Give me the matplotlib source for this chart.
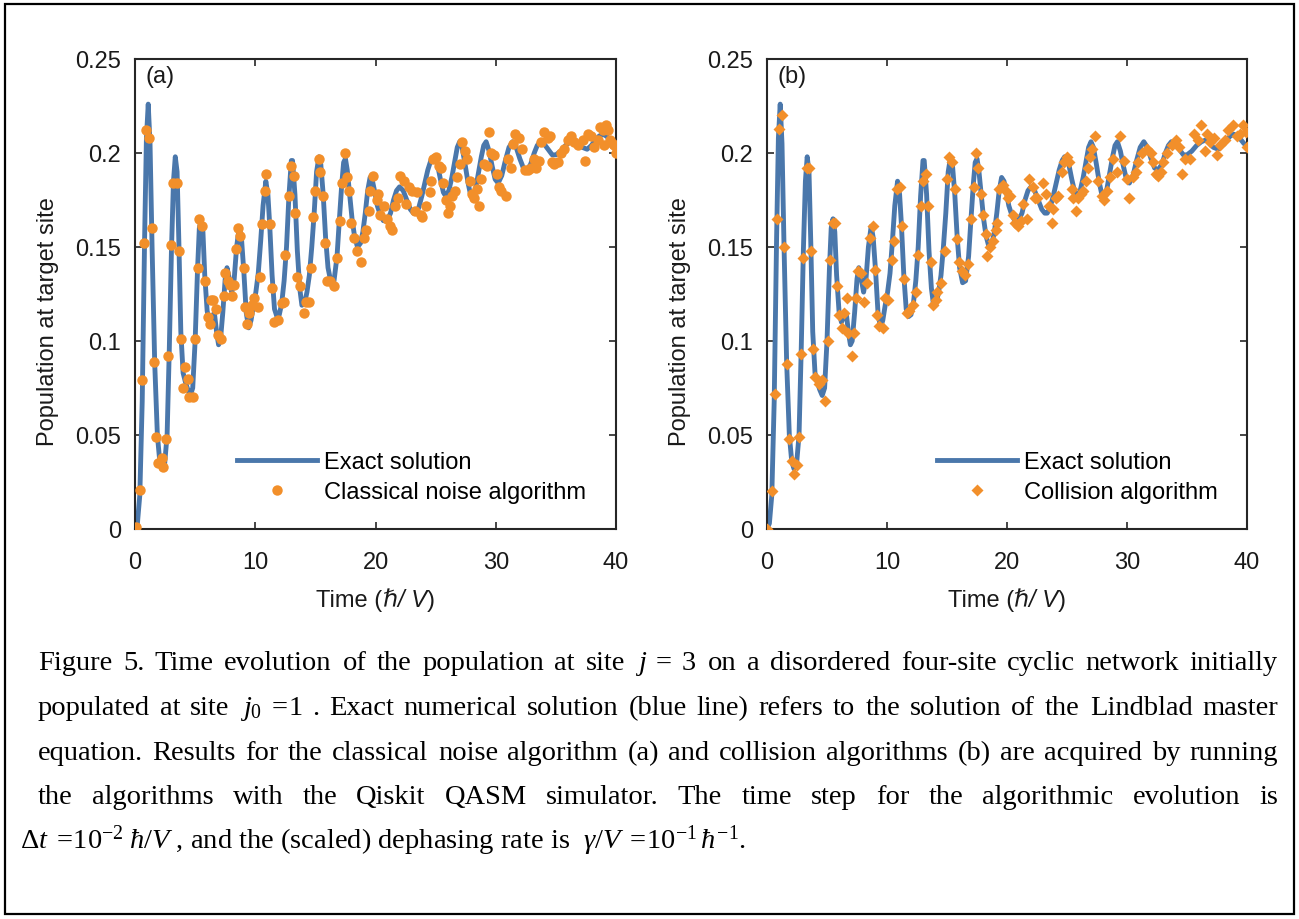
import matplotlib
matplotlib.use('Agg')
import matplotlib.pyplot as plt
from matplotlib.patches import Rectangle
from matplotlib.offsetbox import TextArea, HPacker, AnchoredOffsetbox

plt.rcParams['font.family'] = ['Liberation Sans', 'DejaVu Sans']
plt.rcParams['mathtext.fontset'] = 'custom'
plt.rcParams['mathtext.rm'] = 'Liberation Serif'
plt.rcParams['mathtext.it'] = 'Liberation Serif:italic'
plt.rcParams['mathtext.bf'] = 'Liberation Serif:bold'

# ---------------- data ----------------
exact_t = [0, 0.2, 0.4, 0.6, 0.8, 0.95, 1.1, 1.25, 1.42, 1.64, 1.86, 2.06, 2.25, 2.47, 2.67,
           2.85, 3.03, 3.2, 3.35, 3.5, 3.65, 3.81, 4.0, 4.2, 4.4, 4.6, 4.8, 5.0, 5.2, 5.35,
           5.5, 5.65, 5.8, 6.0, 6.2, 6.4, 6.6, 6.8, 6.95, 7.1, 7.3, 7.5, 7.65, 7.85, 8.05,
           8.25, 8.45, 8.68, 8.85, 9.05, 9.25, 9.45, 9.65, 9.85, 10.05, 10.25, 10.45, 10.65,
           10.88, 11.05, 11.2, 11.4, 11.6, 11.8, 12.0, 12.2, 12.4, 12.6, 12.8, 13.0, 13.1,
           13.3, 13.5, 13.7, 13.88, 14.1, 14.3, 14.5, 14.7, 14.9, 15.1, 15.3, 15.45, 15.65,
           15.85, 16.05, 16.3, 16.55, 16.8, 17.0, 17.2, 17.35, 17.5, 17.65, 17.85, 18.05,
           18.25, 18.5, 18.75, 18.95, 19.15, 19.35, 19.55, 19.75, 19.95, 20.15, 20.4, 20.65,
           20.95, 21.25, 21.5, 21.75, 22.0, 22.3, 22.6, 22.9, 23.15, 23.35, 23.6, 23.85, 24.1,
           24.35, 24.6, 24.8, 24.95, 25.15, 25.4, 25.65, 25.85, 26.1, 26.35, 26.6, 26.8, 27.0,
           27.2, 27.45, 27.7, 27.9, 28.05, 28.3, 28.55, 28.8, 29.0, 29.2, 29.45, 29.7, 29.95,
           30.2, 30.5, 30.8, 31.1, 31.4, 31.7, 32.0, 32.3, 32.6, 32.9, 33.2, 33.45, 33.7, 34.0,
           34.35, 34.7, 35.0, 35.4, 35.8, 36.2, 36.6, 36.9, 37.2, 37.6, 37.95, 38.3, 38.6, 38.9,
           39.2, 39.5, 39.75, 40.0]
exact_y = [0.000, 0.003, 0.018, 0.068, 0.155, 0.208, 0.226, 0.205, 0.150, 0.088, 0.050, 0.036,
           0.032, 0.035, 0.050, 0.095, 0.148, 0.185, 0.198, 0.190, 0.152, 0.105, 0.083, 0.078,
           0.074, 0.071, 0.075, 0.100, 0.138, 0.160, 0.165, 0.158, 0.135, 0.116, 0.110, 0.113,
           0.115, 0.104, 0.098, 0.100, 0.115, 0.133, 0.139, 0.133, 0.126, 0.133, 0.150, 0.161,
           0.155, 0.137, 0.115, 0.107, 0.111, 0.119, 0.126, 0.136, 0.153, 0.172, 0.185, 0.178,
           0.162, 0.135, 0.117, 0.113, 0.114, 0.120, 0.132, 0.150, 0.177, 0.196, 0.196, 0.178,
           0.148, 0.128, 0.119, 0.120, 0.126, 0.135, 0.150, 0.168, 0.190, 0.198, 0.194, 0.178,
           0.155, 0.139, 0.131, 0.132, 0.145, 0.165, 0.184, 0.195, 0.197, 0.191, 0.178, 0.165,
           0.156, 0.150, 0.152, 0.158, 0.168, 0.180, 0.187, 0.185, 0.179, 0.172, 0.167, 0.164,
           0.164, 0.168, 0.175, 0.180, 0.182, 0.180, 0.175, 0.170, 0.168, 0.168, 0.171, 0.177,
           0.184, 0.191, 0.196, 0.198, 0.198, 0.194, 0.186, 0.179, 0.177, 0.180, 0.187, 0.196,
           0.203, 0.206, 0.203, 0.194, 0.184, 0.178, 0.176, 0.180, 0.189, 0.198, 0.204, 0.206,
           0.201, 0.193, 0.186, 0.184, 0.188, 0.196, 0.203, 0.206, 0.203, 0.197, 0.192, 0.191,
           0.194, 0.200, 0.204, 0.206, 0.205, 0.202, 0.199, 0.199, 0.201, 0.204, 0.206, 0.207,
           0.205, 0.203, 0.202, 0.204, 0.207, 0.209, 0.210, 0.209, 0.207, 0.205, 0.204]

noise_t = [0.0, 0.12, 0.42, 0.56, 0.75, 0.92, 1.19, 1.39, 1.58, 1.72, 1.94, 2.22, 2.36, 2.58,
           2.78, 2.97, 3.14, 3.47, 3.69, 3.81, 3.97, 4.17, 4.39, 4.53, 4.8, 5.0, 5.22, 5.36,
           5.56, 5.83, 6.03, 6.2, 6.3, 6.5, 6.72, 6.94, 7.17, 7.36, 7.5, 7.7, 7.86, 8.06, 8.2,
           8.42, 8.53, 8.75, 9.03, 9.11, 9.31, 9.5, 9.69, 9.92, 10.2, 10.36, 10.56, 10.83,
           10.92, 11.2, 11.39, 11.58, 11.89, 12.22, 12.42, 12.5, 12.78, 12.97, 13.2, 13.33,
           13.47, 13.7, 14.03, 14.25, 14.44, 14.64, 14.81, 15.0, 15.28, 15.42, 15.61, 15.83,
           15.97, 16.2, 16.53, 16.8, 17.03, 17.22, 17.44, 17.64, 17.83, 18.0, 18.19, 18.47,
           18.8, 19.03, 19.25, 19.44, 19.58, 19.8, 20.1, 20.19, 20.36, 20.69, 20.97, 21.19,
           21.39, 21.61, 21.86, 22.03, 22.36, 22.5, 22.78, 23.06, 23.25, 23.47, 23.75, 23.9,
           24.17, 24.5, 24.64, 24.8, 25.06, 25.28, 25.47, 25.64, 25.83, 26.03, 26.2, 26.39,
           26.58, 26.8, 27.02, 27.22, 27.42, 27.64, 27.86, 28.06, 28.19, 28.42, 28.6, 28.81,
           29.03, 29.25, 29.44, 29.64, 29.86, 30.08, 30.28, 30.47, 30.83, 31.06, 31.25, 31.47,
           31.61, 31.94, 32.22, 32.42, 32.69, 32.92, 33.14, 33.33, 33.6, 33.8, 34.03, 34.31,
           34.53, 34.67, 34.86, 35.14, 35.42, 35.69, 35.97, 36.25, 36.53, 36.8, 37.22, 37.44,
           37.69, 37.92, 38.19, 38.47, 38.69, 38.89, 39.03, 39.17, 39.31, 39.53, 39.72, 39.86,
           40.0]
noise_y = [0.000, 0.001, 0.021, 0.079, 0.152, 0.212, 0.208, 0.160, 0.089, 0.049, 0.035, 0.038,
           0.033, 0.048, 0.092, 0.151, 0.184, 0.184, 0.148, 0.101, 0.075, 0.086, 0.080, 0.070,
           0.070, 0.101, 0.139, 0.165, 0.161, 0.132, 0.113, 0.109, 0.122, 0.122, 0.117, 0.103,
           0.101, 0.124, 0.136, 0.132, 0.130, 0.124, 0.130, 0.149, 0.160, 0.156, 0.139, 0.118,
           0.109, 0.115, 0.119, 0.123, 0.118, 0.134, 0.162, 0.180, 0.189, 0.162, 0.128, 0.110,
           0.111, 0.120, 0.121, 0.146, 0.177, 0.193, 0.188, 0.168, 0.134, 0.129, 0.115, 0.121,
           0.121, 0.139, 0.166, 0.180, 0.197, 0.190, 0.177, 0.152, 0.132, 0.132, 0.129, 0.144,
           0.164, 0.184, 0.200, 0.187, 0.180, 0.163, 0.155, 0.148, 0.142, 0.155, 0.159, 0.169,
           0.180, 0.188, 0.175, 0.178, 0.167, 0.172, 0.165, 0.161, 0.159, 0.172, 0.176, 0.188,
           0.185, 0.173, 0.182, 0.180, 0.169, 0.179, 0.167, 0.166, 0.172, 0.179, 0.185, 0.197,
           0.198, 0.193, 0.192, 0.184, 0.175, 0.168, 0.172, 0.177, 0.180, 0.187, 0.194, 0.206,
           0.201, 0.197, 0.185, 0.178, 0.176, 0.181, 0.172, 0.186, 0.194, 0.193, 0.211, 0.200,
           0.199, 0.189, 0.182, 0.180, 0.177, 0.197, 0.192, 0.205, 0.210, 0.208, 0.202, 0.191,
           0.191, 0.192, 0.197, 0.192, 0.196, 0.206, 0.211, 0.208, 0.209, 0.195, 0.194, 0.195,
           0.200, 0.202, 0.207, 0.209, 0.206, 0.204, 0.207, 0.196, 0.210, 0.209, 0.203, 0.207,
           0.214, 0.212, 0.204, 0.215, 0.212, 0.207, 0.205, 0.204, 0.200]

coll_t = [0.0, 0.44, 0.67, 0.81, 1.03, 1.22, 1.42, 1.64, 1.86, 2.06, 2.25, 2.47, 2.67, 2.83,
          3.03, 3.31, 3.53, 3.64, 3.81, 4.0, 4.36, 4.56, 4.83, 5.06, 5.25, 5.47, 5.67, 5.81,
          6.03, 6.22, 6.42, 6.64, 6.78, 7.06, 7.25, 7.42, 7.61, 7.83, 8.08, 8.36, 8.58, 8.81,
          9.0, 9.19, 9.36, 9.64, 9.83, 10.11, 10.39, 10.61, 10.81, 11.08, 11.22, 11.42, 11.64,
          11.86, 12.14, 12.42, 12.6, 12.8, 13.03, 13.25, 13.44, 13.64, 13.86, 14.08, 14.19,
          14.47, 14.83, 15.03, 15.19, 15.39, 15.67, 15.81, 16.03, 16.22, 16.5, 16.78, 16.97,
          17.25, 17.42, 17.61, 17.81, 18.03, 18.25, 18.36, 18.58, 18.86, 19.08, 19.19, 19.36,
          19.64, 19.9, 20.05, 20.25, 20.47, 20.67, 20.94, 21.14, 21.36, 21.64, 21.86, 22.14,
          22.33, 22.53, 22.97, 23.25, 23.53, 23.72, 23.86, 24.08, 24.28, 24.56, 24.75, 24.97,
          25.14, 25.39, 25.53, 25.75, 25.94, 26.15, 26.36, 26.58, 26.78, 26.92, 27.06, 27.33,
          27.61, 27.89, 28.08, 28.31, 28.58, 28.86, 29.14, 29.42, 29.75, 29.97, 30.2, 30.53,
          30.75, 30.94, 31.22, 31.64, 31.97, 32.19, 32.42, 32.61, 32.8, 33.03, 33.36, 33.72,
          34.08, 34.3, 34.56, 34.83, 35.25, 35.58, 35.94, 36.17, 36.5, 36.69, 36.92, 37.25,
          37.53, 37.75, 38.17, 38.44, 38.81, 39.14, 39.42, 39.64, 39.92, 40.0]
coll_y = [0.000, 0.020, 0.072, 0.165, 0.213, 0.220, 0.150, 0.088, 0.048, 0.036, 0.029, 0.034,
          0.049, 0.093, 0.144, 0.192, 0.192, 0.148, 0.096, 0.081, 0.077, 0.079, 0.068, 0.100,
          0.143, 0.163, 0.163, 0.129, 0.114, 0.107, 0.115, 0.123, 0.104, 0.092, 0.104, 0.123,
          0.137, 0.136, 0.121, 0.131, 0.155, 0.161, 0.138, 0.114, 0.108, 0.107, 0.123, 0.122,
          0.143, 0.153, 0.181, 0.182, 0.161, 0.133, 0.115, 0.116, 0.119, 0.126, 0.146, 0.172,
          0.185, 0.189, 0.172, 0.142, 0.119, 0.122, 0.126, 0.131, 0.148, 0.186, 0.198, 0.195,
          0.181, 0.154, 0.142, 0.137, 0.135, 0.141, 0.165, 0.182, 0.200, 0.192, 0.178, 0.167,
          0.157, 0.145, 0.150, 0.153, 0.159, 0.163, 0.181, 0.183, 0.180, 0.176, 0.177, 0.167,
          0.163, 0.161, 0.164, 0.173, 0.165, 0.186, 0.182, 0.176, 0.176, 0.184, 0.178, 0.172,
          0.163, 0.170, 0.176, 0.177, 0.190, 0.195, 0.198, 0.195, 0.181, 0.176, 0.169, 0.176,
          0.178, 0.180, 0.185, 0.192, 0.198, 0.202, 0.209, 0.185, 0.177, 0.175, 0.180, 0.187,
          0.197, 0.190, 0.209, 0.196, 0.186, 0.176, 0.187, 0.190, 0.195, 0.200, 0.202, 0.200,
          0.195, 0.189, 0.188, 0.190, 0.195, 0.200, 0.204, 0.207, 0.203, 0.189, 0.197, 0.197,
          0.210, 0.207, 0.215, 0.201, 0.210, 0.206, 0.208, 0.199, 0.204, 0.207, 0.212, 0.215,
          0.209, 0.210, 0.215, 0.211, 0.203]

x_ticks = [0, 10, 20, 30, 40]
y_ticks = [0, 0.05, 0.1, 0.15, 0.2, 0.25]
y_ticklabels = ['0', '0.05', '0.1', '0.15', '0.2', '0.25']
panel_labels = ['(a)', '(b)']
legend_labels = [['Exact solution', 'Classical noise algorithm'],
                 ['Exact solution', 'Collision algorithm']]

caption_lines = [
    r"Figure 5. Time evolution of the population at site $j\;=\;3$ on a disordered four-site cyclic network initially",
    r"populated at site $j_0\;=\!1$ . Exact numerical solution (blue line) refers to the solution of the Lindblad master",
    r"equation. Results for the classical noise algorithm (a) and collision algorithms (b) are acquired by running",
    r"the algorithms with the Qiskit QASM simulator. The time step for the algorithmic evolution is",
]
caption_last = (r"$\Delta t\;=\!10^{-2}\;\hbar/V$ , and the (scaled) dephasing rate is  "
                r"$\gamma/V\;=\!10^{-1}\,\hbar^{-1}$.")

# ---------------- styling ----------------
BLUE = '#4a77ab'
ORANGE = '#f28f2a'
AXC = '#262626'
FS = 17
W, H = 1299, 920

fig = plt.figure(figsize=(W / 100, H / 100), dpi=100)


def rect(x0, x1, y0, y1):
    return [x0 / W, 1 - y1 / H, (x1 - x0) / W, (y1 - y0) / H]


axes = [fig.add_axes(rect(135, 616, 60, 530)), fig.add_axes(rect(767, 1247, 60, 530))]
point_sets = [(noise_t, noise_y, 'o', 7.5), (coll_t, coll_y, 'D', 6.4)]
leg_x = [(237 - 135) / 481, (937 - 767) / 480]
ylab_x = [48, 680]

for i, ax in enumerate(axes):
    pt, py, mk, ms = point_sets[i]
    ax.plot(exact_t, exact_y, color=BLUE, lw=3.5, solid_joinstyle='round',
            label=legend_labels[i][0], zorder=2)
    ax.plot(pt, py, ls='none', marker=mk, ms=ms, color=ORANGE, mec='none',
            label=legend_labels[i][1], zorder=3)
    ax.set_xlim(0, 40)
    ax.set_ylim(0, 0.25)
    ax.set_xticks(x_ticks)
    ax.set_yticks(y_ticks)
    ax.set_yticklabels(y_ticklabels)
    ax.tick_params(direction='in', top=True, right=True, length=5, width=1.2,
                   labelsize=FS, color=AXC, labelcolor='#1a1a1a')
    ax.tick_params(axis='y', pad=10)
    ax.tick_params(axis='x', pad=16)
    for s in ax.spines.values():
        s.set_linewidth(1.5)
        s.set_color(AXC)
    ax.text(0.021, 0.988, panel_labels[i], transform=ax.transAxes, ha='left', va='top',
            fontsize=FS, color='#1a1a1a')
    ax.legend(loc='upper left', bbox_to_anchor=(leg_x[i], 0.166), frameon=False,
              fontsize=FS, handlelength=3.4, handletextpad=0.3, labelspacing=0.36,
              borderpad=0, borderaxespad=0, numpoints=1)
    # x label with italic hbar / V
    tp = dict(fontsize=FS, color='#1a1a1a')
    tpi = dict(fontsize=FS, color='#1a1a1a', style='italic')
    box = HPacker(children=[TextArea('Time (', textprops=tp),
                            TextArea('\u210f/ V', textprops=tpi),
                            TextArea(')', textprops=tp)], sep=0, pad=0, align='baseline')
    anc = AnchoredOffsetbox(loc='center', child=box, pad=0, borderpad=0, frameon=False,
                            bbox_to_anchor=(0.5, -0.149), bbox_transform=ax.transAxes)
    ax.add_artist(anc)
    fig.text(ylab_x[i] / W, 1 - 322 / H, 'Population at target site',
             rotation=90, ha='center', va='center', fontsize=FS, color='#1a1a1a')

# border around the whole figure
fig.patches.append(Rectangle((5 / W, 5 / H), (1294 - 5) / W, (915 - 5) / H,
                             transform=fig.transFigure, fill=False, lw=1.6, ec='black'))

# ---------------- caption (justified) ----------------
CFS = 20.5
XL, XR = 38, 1278
baselines = [670, 715, 760, 804, 849]
renderer = fig.canvas.get_renderer()
for li, line in enumerate(caption_lines):
    words = line.split(' ')
    objs = []
    for w in words:
        objs.append(fig.text(0, 1 - baselines[li] / H, w, fontsize=CFS,
                             family='Liberation Serif', va='baseline', ha='left'))
    widths = [o.get_window_extent(renderer).width for o in objs]
    gap = (XR - XL - sum(widths)) / (len(objs) - 1)
    x = XL
    for o, wd in zip(objs, widths):
        o.set_x(x / W)
        x += wd + gap
fig.text(20 / W, 1 - baselines[4] / H, caption_last, fontsize=CFS,
         family='Liberation Serif', va='baseline', ha='left')

fig.savefig('out.png', dpi=100)
